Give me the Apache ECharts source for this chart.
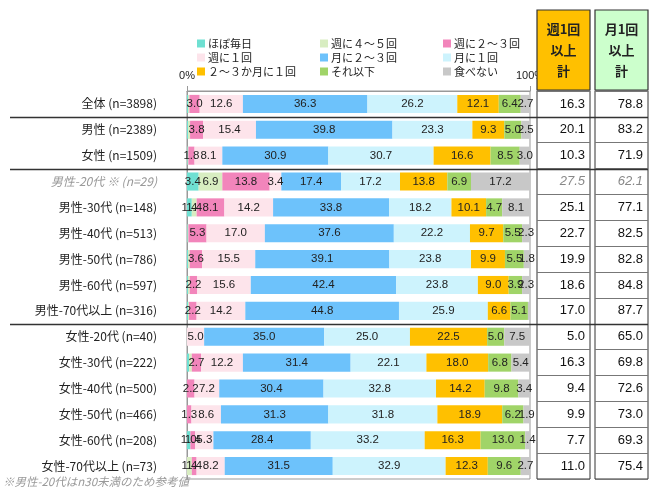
<!DOCTYPE html>
<html><head><meta charset="utf-8">
<script src="https://cdn.jsdelivr.net/npm/echarts@6/dist/echarts.min.js"></script>
<style>html,body{margin:0;padding:0;background:#fff}#c{width:652px;height:491px}</style>
</head><body><div id="c"></div>
<script>
const categories = ['全体 (n=3898)','男性 (n=2389)','女性 (n=1509)','男性-20代 ※ (n=29)','男性-30代 (n=148)','男性-40代 (n=513)','男性-50代 (n=786)','男性-60代 (n=597)','男性-70代以上 (n=316)','女性-20代 (n=40)','女性-30代 (n=222)','女性-40代 (n=500)','女性-50代 (n=466)','女性-60代 (n=208)','女性-70代以上 (n=73)'];
const seriesNames = ['ほぼ毎日','週に４～５回','週に２～３回','週に１回','月に２～３回','月に１回','２～３か月に１回','それ以下','食べない'];
const colors = ['#6fe0d2','#d8edc1','#f285bb','#fde4eb','#6dc2fb','#cdf3fd','#ffc000','#a0d468','#c8c8c8'];
const daily = [0.3,0.3,0.2,3.4,1.4,0.2,0.3,0.3,0.3,0,0.6,0,0,1.0,0];
const w45 = [0.4,0.6,0.2,6.9,1.4,0.2,0.5,0.5,0.3,0,0.8,0,0,0,1.4];
const w23 = [3.0,3.8,1.8,13.8,8.1,5.3,3.6,2.2,2.2,0,2.7,2.2,1.3,1.4,1.4];
const w1 = [12.6,15.4,8.1,3.4,14.2,17.0,15.5,15.6,14.2,5.0,12.2,7.2,8.6,5.3,8.2];
const m23 = [36.3,39.8,30.9,17.4,33.8,37.6,39.1,42.4,44.8,35.0,31.4,30.4,31.3,28.4,31.5];
const m1 = [26.2,23.3,30.7,17.2,18.2,22.2,23.8,23.8,25.9,25.0,22.1,32.8,31.8,33.2,32.9];
const mon23 = [12.1,9.3,16.6,13.8,10.1,9.7,9.9,9.0,6.6,22.5,18.0,14.2,18.9,16.3,12.3];
const less = [6.4,5.0,8.5,6.9,4.7,5.5,5.5,3.9,5.1,5.0,6.8,9.8,6.2,13.0,9.6];
const none = [2.7,2.5,3.0,17.2,8.1,2.3,1.8,2.3,0.6,7.5,5.4,3.4,1.9,1.4,2.7];
const weekTotal = [16.3,20.1,10.3,27.5,25.1,22.7,19.9,18.6,17.0,5.0,16.3,9.4,9.9,7.7,11.0];
const monthTotal = [78.8,83.2,71.9,62.1,77.1,82.5,82.8,84.8,87.7,65.0,69.8,72.6,73.0,69.3,75.4];
const refRow = 3;
const groupBreaks = [0,2,8];

const seriesData = [daily,w45,w23,w1,m23,m1,mon23,less,none];
const FONT = '"Liberation Sans", Arial, "Noto Sans CJK JP", sans-serif';
const JFONT = '"Noto Sans CJK JP", sans-serif';

const chart = echarts.init(document.getElementById('c'), null, {renderer:'canvas'});

const barSeries = seriesNames.map((n,i)=>({
  name:n, type:'bar', stack:'a', xAxisIndex:0, yAxisIndex:0,
  barWidth:'70%', data:seriesData[i],
  itemStyle:{color:colors[i]},
  label:{show:true, position:'inside', fontSize:11.5, color:'#222', fontFamily:FONT,
    formatter:p=> p.value>=1 ? p.value.toFixed(1) : ''},
  emphasis:{disabled:true}
}));

function tableSeries(vals, gi){
  return {type:'bar', xAxisIndex:gi, yAxisIndex:gi, barWidth:'100%',
    data: vals.map(()=>1), itemStyle:{color:'rgba(0,0,0,0)'}, silent:true,
    label:{show:true, position:'insideRight', distance:5, fontSize:13, fontFamily:FONT,
      formatter:p=>{const v=vals[p.dataIndex].toFixed(1); return p.dataIndex===refRow?'{r|'+v+'}':'{n|'+v+'}';},
      rich:{n:{fontSize:13,color:'#111',fontFamily:FONT},r:{fontSize:13,color:'#888',fontStyle:'italic',fontFamily:FONT}}}};
}

const legendCols = [[0,3,6],[1,4,7],[2,5,8]];
const legendX = [197,320,443];
const legends = legendCols.map((col,k)=>({
  orient:'vertical', left:legendX[k], top:38, padding:0, itemGap:3,
  itemWidth:8, itemHeight:8, icon:'rect', selectedMode:false,
  data: col.map(i=>seriesNames[i]),
  textStyle:{fontSize:11, color:'#222', fontFamily:JFONT, lineHeight:11, padding:[0,0,0,-2]}
}));

const tblAxis = (gi)=>({type:'category', gridIndex:gi, data:categories, inverse:true,
  axisLine:{show:false}, axisTick:{show:false}, axisLabel:{show:false},
  splitLine:{show:true, lineStyle:{color:'#777', width:1}}});

chart.setOption({
  animation:false,
  color:colors,
  legend:legends,
  grid:[
    {left:187, right:122, top:91, bottom:12, show:true, borderColor:'#999', borderWidth:1},
    {left:537, right:62, top:91, bottom:12, show:true, borderColor:'#333', borderWidth:1},
    {left:595, right:4, top:91, bottom:12, show:true, borderColor:'#333', borderWidth:1}
  ],
  xAxis:[
    {type:'value', gridIndex:0, min:0, max:100, interval:100, position:'top',
      axisLine:{show:true, lineStyle:{color:'#999'}}, axisTick:{show:true, length:5, lineStyle:{color:'#999'}},
      splitLine:{show:false},
      axisLabel:{formatter:'{value}%', fontSize:11, color:'#222', margin:10, fontFamily:FONT}},
    {type:'value', gridIndex:1, min:0, max:1, show:false},
    {type:'value', gridIndex:2, min:0, max:1, show:false}
  ],
  yAxis:[
    {type:'category', gridIndex:0, data:categories, inverse:true,
      axisLine:{show:true, lineStyle:{color:'#999'}}, axisTick:{show:false},
      axisLabel:{margin:30, fontSize:12, color:'#222', fontFamily:JFONT,
        formatter:(v,i)=> i===refRow ? '{r|'+v+'}' : v,
        rich:{r:{fontSize:12, color:'#999', fontStyle:'italic', fontFamily:JFONT}}}},
    tblAxis(1), tblAxis(2)
  ],
  series:[...barSeries, tableSeries(weekTotal,1), tableSeries(monthTotal,2)]
});

// decorations: group separator lines, table headers, footnote
const py = i => chart.convertToPixel({yAxisIndex:0}, categories[i]);
const gfx = [];
groupBreaks.forEach(b=>{
  const y = Math.round((py(b)+py(b+1))/2)+0.5;
  gfx.push({type:'line', shape:{x1:10,y1:y,x2:648,y2:y}, style:{stroke:'#333', lineWidth:1.5}, z:100});
});
const headers = [
  {x:537, w:53, fill:'#ffc000', text:'週1回\n以上\n計'},
  {x:595, w:53, fill:'#ccffcc', text:'月1回\n以上\n計'}
];
headers.forEach(h=>{
  gfx.push({type:'rect', shape:{x:h.x, y:10, width:h.w, height:80}, style:{fill:h.fill, stroke:'#333', lineWidth:1.2}, z:90});
  gfx.push({type:'text', x:h.x+h.w/2, y:50, z:91, style:{text:h.text, fill:'#222', font:'bold 13px '+JFONT, align:'center', verticalAlign:'middle', lineHeight:21}});
});
gfx.push({type:'text', left:3, top:476, style:{text:'※男性-20代はn30未満のため参考値', fill:'#999', font:'italic 11.5px '+JFONT}});
chart.setOption({graphic:gfx});
</script>
</body></html>
